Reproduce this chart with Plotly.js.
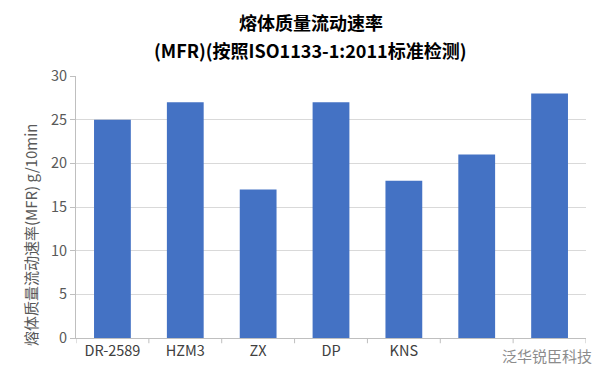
<!DOCTYPE html>
<html>
<head>
<meta charset="utf-8">
<script src="https://cdn.plot.ly/plotly-3.0.1.min.js"></script>
<style>html,body{margin:0;padding:0;background:#fff;}#chart{width:605px;height:380px;}</style>
</head>
<body>
<div id="chart"></div>
<script>
const categories = ["DR-2589", "HZM3", "ZX", "DP", "KNS", "", ""];
const mfrValues = [25, 27, 17, 27, 18, 21, 28];
const titleLine1 = "熔体质量流动速率";
const titleLine2 = "(MFR)(按照ISO1133-1:2011标准检测)";
const yTitle = "熔体质量流动速率(MFR) g/10min";
const watermark = "泛华锐臣科技";

const xIdx = categories.map((c, i) => i);
const font = "'Noto Sans CJK SC', 'Microsoft YaHei', sans-serif";

const trace = {
  type: "bar",
  x: xIdx,
  y: mfrValues,
  marker: {color: "#4472C4"},
  hoverinfo: "skip"
};

const layout = {
  width: 605, height: 380,
  margin: {l: 76, r: 19, t: 76, b: 42, pad: 0},
  paper_bgcolor: "#fff", plot_bgcolor: "#fff",
  font: {family: font, color: "#595959"},
  bargap: 0.495,
  showlegend: false,
  xaxis: {
    type: "linear",
    range: [-0.5, categories.length - 0.5],
    tickmode: "array",
    tickvals: xIdx,
    ticktext: categories,
    ticks: "",
    showgrid: false,
    zeroline: false,
    showline: true,
    linecolor: "#bfbfbf",
    linewidth: 1,
    tickfont: {size: 14.5, color: "#404040"},
    fixedrange: true
  },
  yaxis: {
    range: [0, 30],
    dtick: 5,
    tick0: 0,
    ticks: "outside",
    ticklen: 5,
    tickcolor: "#bfbfbf",
    showline: true,
    linecolor: "#bfbfbf",
    gridcolor: "#d9d9d9",
    zeroline: false,
    tickfont: {size: 14.5, color: "#595959"},
    fixedrange: true
  },
  shapes: [],
  annotations: [
    {text: "<b>" + titleLine1 + "</b>", xref: "paper", yref: "paper", x: 0.46, y: 1, yshift: 54,
     showarrow: false, font: {size: 18, color: "#000"}, xanchor: "center", yanchor: "middle"},
    {text: "<b>" + titleLine2 + "</b>", xref: "paper", yref: "paper", x: 0.46, y: 1, yshift: 26,
     showarrow: false, font: {size: 18, color: "#000"}, xanchor: "center", yanchor: "middle"},
    {text: yTitle, xref: "paper", yref: "paper", x: 0, xshift: -46, y: 0.5, yshift: -28,
     textangle: -90, showarrow: false, font: {size: 15, color: "#595959"}, xanchor: "center", yanchor: "middle"},
    {text: watermark, xref: "paper", yref: "paper", x: 1.0, y: 0, yshift: -17, xshift: 8,
     showarrow: false, font: {size: 15, color: "#8c8c8c"}, xanchor: "right", yanchor: "middle"}
  ]
};

// category separator tick marks below x-axis
for (let i = 0; i <= categories.length; i++) {
  layout.shapes.push({
    type: "line", xref: "x", yref: "paper",
    x0: i - 0.5, x1: i - 0.5, y0: 0, y1: -0.02,
    line: {color: "#bfbfbf", width: 1}
  });
}

Plotly.newPlot("chart", [trace], layout, {displayModeBar: false, staticPlot: true});
</script>
</body>
</html>
